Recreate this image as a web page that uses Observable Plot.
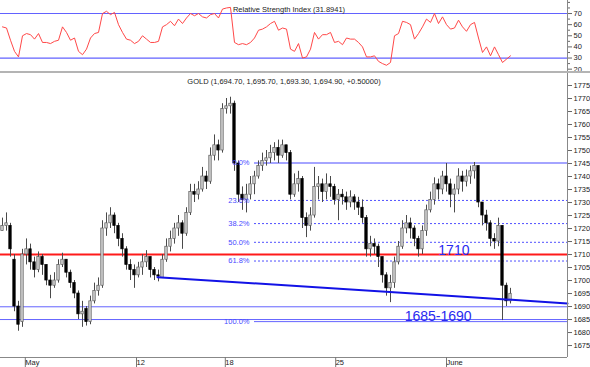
<!DOCTYPE html>
<html><head><meta charset="utf-8">
<script src="https://cdn.jsdelivr.net/npm/d3@7"></script>
<script src="https://cdn.jsdelivr.net/npm/@observablehq/plot@0.6"></script>
<style>
body{margin:0;background:#fff}
#wrap{position:relative;width:590px;height:367px;overflow:hidden}
#wrap svg{display:block}
#sep{position:absolute;left:0;top:71px;width:590px;height:2px;background:#b4b4b4}
</style>
</head><body><div id="wrap"></div><script>
// ---- data (bar index = one candle) ----
const opens = [1719,1721,1721,1708,1690,1684,1710,1712,1707,1704,
1709,1706,1700,1698,1700,1706,1708,1703,1699,1695,
1687,1689,1684,1692,1696,1698,1720,1722,1725,1721,
1716,1712,1706,1704,1702,1705,1707,1709,1704,1702,
1701,1708,1713,1716,1720,1722,1718,1726,1734,1733,
1735,1740,1738,1748,1752,1750,1766,1767,1768,1745,
1733,1731,1733,1737,1740,1744,1746,1747,1749,1751,
1748,1752,1749,1733,1737,1739,1724,1721,1725,1736,
1737,1734,1737,1736,1731,1733,1732,1730,1732,1730,
1728,1724,1712,1714,1713,1709,1702,1697,1699,1707,
1713,1720,1722,1720,1716,1712,1719,1727,1731,1737,
1735,1740,1737,1733,1735,1740,1738,1740,1742,1744,
1730,1725,1722,1716,1715,1721,1698,1692];
const highs = [1724,1726,1722,1710,1692,1712,1716,1714,1709,1711,
1710,1706,1702,1703,1708,1710.5,1708,1704,1700,1696,
1692,1690,1694,1699,1701,1723,1726,1728,1726,1722,
1718,1713,1708,1706,1707,1710,1711.5,1709,1705,1704,
1710,1716,1719,1722,1725,1723,1728,1737,1737,1738,
1743.5,1742,1751,1756,1754,1768,1770,1770.5,1769,1746,
1736,1737,1740,1742,1746,1749,1750,1752,1753,1754,
1754,1752,1750,1741,1742,1740,1726,1728,1743.5,1740,
1739,1741,1740,1737,1735,1735,1734,1734.5,1733,1732,
1731,1725,1717,1716,1714,1709,1703,1702,1709,1715,
1723,1725,1724,1721,1717,1721,1729,1734,1739.5,1739,
1742,1745,1739,1737,1743,1742,1742.5,1744,1745.4,1744,
1729,1727,1723,1718,1724,1721,1699,1697];
const lows = [1719,1719,1709,1688,1680.5,1682,1706,1704,1701,1703,
1702,1698,1693,1697,1699,1705,1701,1697,1693,1685,
1682,1682.5,1683,1691,1694,1697,1717,1720,1718,1713,
1709,1704,1700,1697,1701,1702,1705,1701,1700,1699.5,
1701,1707,1711,1714,1717,1712,1717,1725,1730,1731,
1734,1735,1737,1746,1746,1749,1764,1764,1742,1730,
1727,1726,1731,1733,1739,1742,1744,1745,1746,1745,
1747,1746,1731,1732,1734,1720,1716.5,1719,1724,1731,
1730,1731,1732,1729,1723,1729,1727,1728,1727,1725,
1722,1709,1709,1710,1705,1699,1694,1691.5,1697,1706,
1712,1718,1716,1713,1709,1710,1717,1726,1729,1731,
1733,1734,1728,1726,1733,1734,1736,1737,1739,1728,
1721,1719,1713,1712,1713,1684.6,1690,1691];
const closes = [1721,1722,1712,1690,1683,1710,1712,1707,1704,1709,
1706,1700,1698,1700,1706,1708,1703,1699,1695,1687,
1688,1684,1692,1696,1698,1720,1722,1725,1721,1716,
1712,1706,1704,1702,1705,1707,1709,1704,1702,1701.5,
1708,1713,1716,1720,1722,1718,1726,1734,1733,1735,
1740,1738,1748,1752,1750,1766,1767,1768,1745,1733,
1731,1733,1737,1740,1744,1746,1747,1749,1751,1748,
1752,1749,1733,1737,1739,1724,1721,1725,1736,1737,
1734,1737,1736,1731,1733,1732,1730,1732,1730,1728,
1724,1712,1714,1713,1709,1702,1697,1699,1707,1713,
1720,1722,1720,1716,1712,1719,1727,1731,1737,1735,
1740,1737,1733,1735,1740,1738,1740,1742,1744,1730,
1725,1722,1716,1715,1721,1698,1692,1694.9];
const rsiValues = [58,57,46,36,31,50,52,51,47,52,
44,44,43,45,46,58,53,46,48,36,
33,38,48,52,53,70,72,69,71,60,
53,47,46,43,45,50,47,44,44,45,
58,60,63,59,65,61,66,70,68,70,
67,66,69,70,66,74,75,75.5,44,42,
43,42,44,48,55,56,58,61,63,55,
57,56,38,36,43,30,31,38,53,47,
51,51,53,44,45,42,48,47,47,44,
40,31,31,32,27,25,23.5,26,50,52,
63,62,60,47,52,58,65,62,70,61,
67,60,56,57,64,58,54,60,62,48,
35,40,32,40,33,26,29,32];

const xDomain = [-0.5, 141.25];
const xTickPos = [5.2, 33, 55.2, 82.8, 110.5];
const xTickLabels = ["May", "12", "18", "25", "June"];
const priceDomain = [1670.4, 1780];
const priceTicks = [1675,1680,1685,1690,1695,1700,1705,1710,1715,1720,1725,1730,1735,1740,1745,1750,1755,1760,1765,1770,1775];
const rsiDomain = [17, 81.7];
const rsiLabelTicks = [20,30,40,50,60,70];
const rsiMinorTicks = [25,35,45,55,65,75,80];
const rsiBands = [70, 30];

const redLevel = [1710];
const supportLevels = [1689.9, 1685.0];
const fibLevels = [1745.2, 1730.8, 1721.9, 1714.7, 1707.5, 1684.2];
const fibLabels = ["0.0%", "23.6%", "38.2%", "50.0%", "61.8%", "100.0%"];
const fibStart = 63;
const fibLabelX = 61.75;
const trendX = [38.75, 141.25];
const trendY = [1701.3, 1691.2];
const notes = ["1710", "1685-1690"];
const notesX = [112.85, 108.9];
const notesY = [1711.5, 1686.2];
const priceTitle = "GOLD (1,694.70, 1,695.70, 1,693.30, 1,694.90, +0.50000)";
const rsiTitle = "Relative Strength Index (31.8941)";

// ---- build ----
const bars = closes.map((c, i) => ({i, o: opens[i], h: highs[i], l: lows[i], c}));
const rsi = rsiValues.map((r, i) => ({i, r}));
const fib = fibLevels.map((v, k) => ({v, label: fibLabels[k], k}));
const trend = trendX.map((x, k) => ({x, y: trendY[k]}));
const noteRows = notes.map((t, k) => ({t, x: notesX[k], y: notesY[k]}));
const font = "'Liberation Sans', Arial, sans-serif";
const style = {fontFamily: font, fontSize: "7.5px", background: "#fff", color: "#222", overflow: "visible"};

const rsiPlot = Plot.plot({
  width: 590, height: 72,
  marginLeft: 0, marginRight: 23, marginTop: 0, marginBottom: 0,
  style,
  x: {domain: xDomain, axis: null},
  y: {domain: rsiDomain},
  marks: [
    Plot.ruleY(rsiBands, {stroke: "#6262ff", strokeWidth: 1.2}),
    Plot.line(rsi, {x: "i", y: "r", stroke: "#ff4848", strokeWidth: 1}),
    Plot.ruleX([xDomain[1]], {stroke: "#888"}),
    Plot.axisY({anchor: "right", ticks: rsiMinorTicks, tickSize: 2, text: null, label: null, stroke: "#666"}),
    Plot.axisY({anchor: "right", ticks: rsiLabelTicks, tickSize: 4, tickPadding: 2, tickFormat: d => String(d), label: null, stroke: "#666", fill: "#222", fontSize: 7.5}),
    Plot.text([rsiTitle], {frameAnchor: "top", dy: 6, dx: 5, fill: "#222", fontSize: 7.5})
  ]
});

const pricePlot = Plot.plot({
  width: 590, height: 295,
  marginLeft: 0, marginRight: 23, marginTop: 0, marginBottom: 10,
  style,
  x: {domain: xDomain},
  y: {domain: priceDomain},
  marks: [
    Plot.ruleY(supportLevels, {stroke: "#6464ff", strokeWidth: 1}),
    Plot.ruleY(fib.filter(d => d.k === 0), {y: "v", x1: () => fibStart, x2: () => xDomain[1], stroke: "#a4a4ff", strokeWidth: 2}),
    Plot.ruleY(fib.filter(d => d.k === 5), {y: "v", x1: () => fibStart, x2: () => xDomain[1], stroke: "#6464ff", strokeWidth: 1}),
    Plot.ruleY(fib.filter(d => d.k > 0 && d.k < 5), {y: "v", x1: () => fibStart, x2: () => xDomain[1], stroke: "#5050ff", strokeWidth: 1, strokeDasharray: "2,2"}),
    Plot.ruleY(redLevel, {stroke: "#ff1a1a", strokeWidth: 2}),
    Plot.ruleX(bars, {x: "i", y1: "l", y2: "h", stroke: "#4a4a4a", strokeWidth: 1}),
    Plot.rect(bars.filter(d => d.c >= d.o), {x1: d => d.i - 0.3, x2: d => d.i + 0.3, y1: "o", y2: "c", fill: "#d0d0d0", stroke: "#5a5a5a", strokeWidth: 0.7}),
    Plot.rect(bars.filter(d => d.c < d.o), {x1: d => d.i - 0.3, x2: d => d.i + 0.3, y1: "o", y2: "c", fill: "#000", stroke: "#000", strokeWidth: 0.7}),
    Plot.line(trend, {x: "x", y: "y", stroke: "#1212e6", strokeWidth: 2}),
    Plot.text(fib, {x: () => fibLabelX, y: "v", text: "label", textAnchor: "end", fill: "#4a4aff", fontSize: 7.5}),
    Plot.text(noteRows, {x: "x", y: "y", text: "t", fill: "#2a2af0", fontSize: 14}),
    Plot.ruleX([xDomain[1]], {stroke: "#888"}),
    Plot.ruleY([priceDomain[0]], {stroke: "#888"}),
    Plot.axisY({anchor: "right", ticks: priceTicks, tickSize: 4, tickPadding: 2, tickFormat: d => String(d), label: null, stroke: "#666", fill: "#222", fontSize: 7.5}),
    Plot.axisX({ticks: xTickPos, tickSize: 10, tickPadding: -8, tickFormat: d => xTickLabels[xTickPos.indexOf(d)], textAnchor: "start", dx: 2, label: null, stroke: "#777", fill: "#222", fontSize: 7.5}),
    Plot.text([priceTitle], {frameAnchor: "top", dy: 6, fill: "#222", fontSize: 7.5})
  ]
});

const wrap = document.getElementById("wrap");
wrap.appendChild(rsiPlot);
wrap.appendChild(pricePlot);
const sep = document.createElement("div");
sep.id = "sep";
wrap.appendChild(sep);
</script></body></html>
